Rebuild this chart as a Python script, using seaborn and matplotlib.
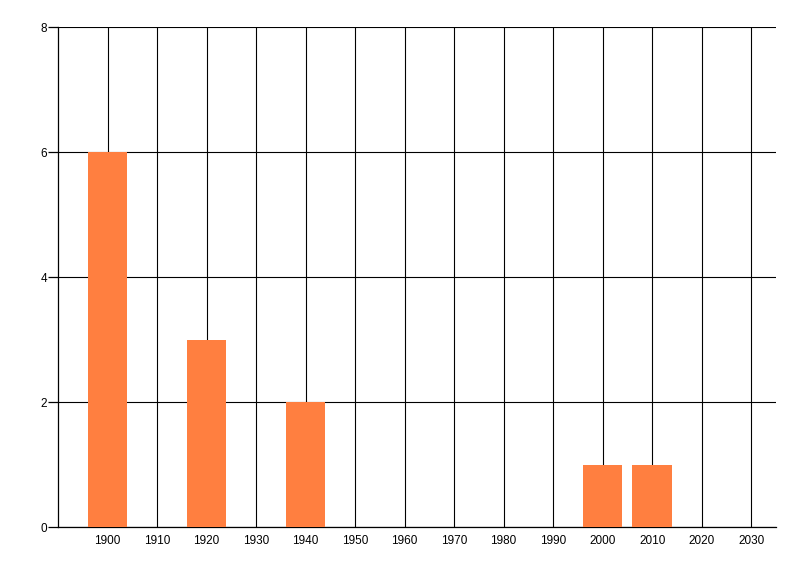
import pandas as pd
import numpy as np
import matplotlib
matplotlib.use("Agg")
import matplotlib.pyplot as plt
import seaborn as sns

# values
years = [1900, 1920, 1940, 2000, 2010]
counts = [6, 3, 2, 1, 1]
x_ticks = list(range(1900, 2031, 10))
y_ticks = [0, 2, 4, 6, 8]

df = pd.DataFrame({"year": years, "count": counts})

sns.set_theme(style="white")
plt.rcParams['font.family'] = ['Liberation Sans', 'DejaVu Sans']

fig = plt.figure(figsize=(8, 5.76), dpi=100)
ax = fig.add_axes([0.0725, 0.085, 0.8975, 0.868])

sns.barplot(data=df, x="year", y="count", native_scale=True, width=0.8,
            color="#ff7f40", saturation=1, edgecolor="none", ax=ax, zorder=3)

ax.set_xlim(1890, 2035)
ax.set_ylim(0, 8)
ax.set_xticks(x_ticks)
ax.set_yticks(y_ticks)
ax.set_xticklabels([str(v) for v in x_ticks])
ax.set_yticklabels([str(v) for v in y_ticks])

ax.grid(True, color="black", linewidth=0.8, zorder=0)
ax.set_axisbelow(True)
for s in ["top", "right"]:
    ax.spines[s].set_visible(False)
for s in ["left", "bottom"]:
    ax.spines[s].set_color("black")
    ax.spines[s].set_linewidth(0.9)

ax.tick_params(axis="x", length=0, pad=6, labelsize=8.5, colors="black")
ax.tick_params(axis="y", length=7, width=0.9, pad=1, labelsize=8.5, colors="black", left=True)
ax.set_xlabel("")
ax.set_ylabel("")

fig.savefig("out.png", dpi=100)
